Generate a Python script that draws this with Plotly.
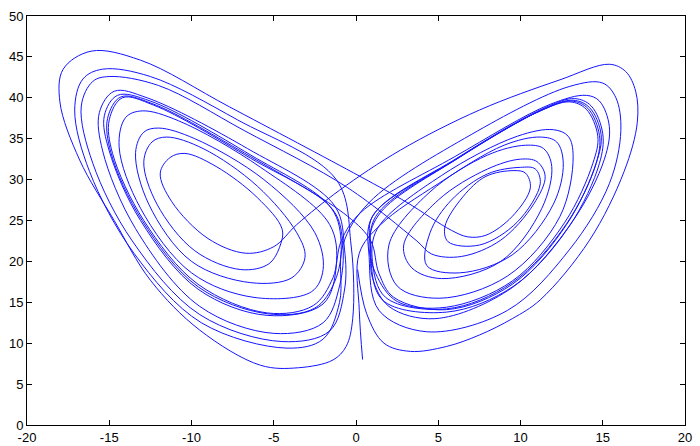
import plotly.graph_objects as go

# Trajectory, loop by loop (x, z) in data units.
R1 = [(0.1, 19.0), (0.65, 13.6), (1.7, 10.0), (3.3, 9.0), (5.5, 9.6), (7.5, 11.0), (9.5, 13.0), (11.2, 15.3),
      (14.2, 22.6), (16.3, 31.0), (17.1, 37.0), (17.0, 40.8), (16.4, 43.2), (15.4, 44.1), (12.4, 42.2),
      (7.5, 38.5), (2.7, 33.6), (-1.0, 28.7), (-3.6, 24.5)]
H = [(-5.0, 21.8), (-6.7, 21.0), (-9.0, 22.8), (-11.2, 27.3), (-11.9, 30.8), (-11.3, 32.7), (-10.4, 33.2),
     (-8.5, 31.6), (-6.0, 27.8), (-4.5, 24.0), (-4.6, 22.0)]
G = [(-5.3, 19.7), (-7.0, 19.0), (-9.8, 21.3), (-12.1, 27.0), (-12.9, 32.2), (-12.4, 34.6), (-11.5, 35.2),
     (-9.3, 33.8), (-6.0, 29.2), (-3.6, 23.5), (-3.1, 20.5)]
F = [(-3.9, 18.0), (-6.4, 17.4), (-10.0, 20.0), (-12.6, 27.0), (-13.4, 33.3), (-12.9, 35.8), (-12.0, 36.3),
     (-9.8, 35.0), (-5.6, 30.0), (-2.5, 23.5), (-2.0, 19.0)]
E = [(-2.7, 16.3), (-6.2, 15.6), (-10.0, 18.6), (-13.1, 26.5), (-14.4, 34.0), (-14.0, 37.6), (-13.0, 38.4),
     (-10.8, 37.2), (-5.8, 31.5), (-1.6, 24.5), (-1.2, 19.5)]
D1 = [(-2.0, 14.8), (-5.4, 13.4), (-9.6, 16.6), (-13.1, 25.0), (-15.0, 33.5), (-15.3, 37.8), (-14.5, 40.3),
      (-12.5, 39.6), (-6.4, 33.0), (-1.5, 26.5), (-0.9, 22.0)]
D2 = [(-1.3, 17.5), (-2.5, 14.3), (-5.4, 13.6), (-9.6, 16.9), (-13.0, 25.0), (-14.9, 33.3), (-15.1, 37.5),
      (-14.3, 40.1), (-12.4, 39.3), (-6.4, 32.8), (-0.5, 25.5), (0.9, 22.5)]
RC1 = [(1.4, 18.5), (2.3, 15.6), (5.5, 14.1), (9.5, 17.2), (12.8, 24.5), (14.6, 32.0), (14.9, 35.5),
       (14.2, 38.8), (13.2, 39.7), (11.4, 38.6), (6.2, 32.6), (1.5, 26.0), (0.8, 22.5)]
RC2 = [(1.2, 18.5), (2.5, 15.1), (5.5, 14.4), (9.5, 17.6), (12.7, 24.8), (14.4, 32.0), (14.7, 35.3),
       (14.0, 38.6), (13.0, 39.5), (11.2, 38.4), (6.0, 32.4), (1.0, 25.5), (0.9, 21.5)]
R3 = [(1.0, 18.0), (2.0, 14.5), (4.8, 13.0), (9.5, 16.8), (13.2, 25.0), (15.1, 32.5), (15.4, 36.5),
      (14.8, 39.6), (14.0, 40.3), (11.8, 39.2), (6.0, 32.8), (0.3, 26.0), (-0.9, 22.5)]
D3 = [(-1.4, 18.0), (-2.6, 14.6), (-5.4, 13.7), (-9.6, 17.2), (-12.9, 25.0), (-14.8, 33.2), (-15.0, 37.3),
      (-14.2, 40.0), (-12.3, 39.1), (-6.4, 32.6), (-1.4, 26.3), (-0.8, 22.0)]
D0 = [(-1.0, 17.0), (-2.0, 12.5), (-5.0, 11.2), (-9.5, 14.5), (-13.4, 24.0), (-15.4, 33.5), (-15.6, 38.2),
      (-14.7, 40.8), (-12.7, 40.0), (-6.6, 33.8), (-1.3, 26.8), (-0.7, 21.5)]
C = [(-0.7, 16.5), (-1.6, 11.5), (-4.5, 10.2), (-9.5, 13.5), (-13.6, 22.5), (-16.0, 32.0), (-16.7, 39.0),
     (-16.0, 42.0), (-15.0, 42.6), (-12.0, 41.5), (-6.8, 36.0), (-0.5, 29.0), (3.7, 22.5)]
R7 = [(4.6, 20.9), (6.4, 20.6), (8.8, 22.6), (10.8, 27.0), (11.5, 30.4), (11.0, 32.2), (10.0, 32.5),
      (8.0, 31.3), (5.0, 27.5), (2.9, 22.0)]
R6 = [(3.4, 19.2), (5.2, 17.9), (8.8, 20.0), (11.3, 26.5), (11.9, 31.6), (11.4, 33.8), (10.3, 34.2),
      (8.0, 33.0), (4.5, 28.5), (2.0, 22.0)]
R5 = [(2.5, 17.0), (5.1, 15.5), (9.2, 18.2), (12.4, 25.5), (13.2, 32.8), (12.9, 35.3), (12.0, 36.1),
      (9.8, 35.3), (5.2, 30.5), (1.3, 24.0), (1.0, 20.0)]
RC3 = [(1.8, 15.6), (5.5, 14.2), (9.5, 17.4), (12.8, 24.6), (14.6, 32.0), (14.8, 35.4), (14.1, 38.7),
       (13.1, 39.6), (11.3, 38.5), (6.1, 32.5), (1.2, 25.5), (0.9, 21.0)]
RC4 = [(1.6, 15.3), (5.5, 13.8), (9.6, 17.0), (13.0, 24.4), (14.8, 32.0), (15.0, 35.6), (14.3, 39.0),
       (13.3, 39.9), (11.5, 38.8), (6.2, 32.7), (1.0, 25.5), (0.8, 20.5)]
R2 = [(1.4, 14.0), (4.3, 11.4), (9.2, 14.0), (13.0, 21.5), (15.4, 29.5), (16.1, 36.0), (15.8, 40.0),
      (15.0, 41.8), (13.0, 41.4), (7.0, 35.5), (0.8, 27.2), (-0.8, 22.0)]
B = [(-1.0, 15.0), (-2.0, 10.5), (-4.2, 9.4), (-9.4, 12.5), (-13.5, 21.0), (-16.2, 31.0), (-17.1, 38.5),
     (-16.6, 42.3), (-15.4, 43.5), (-12.5, 42.6), (-7.2, 37.3), (-1.2, 30.0), (-0.3, 22.0)]
A = [(-0.2, 13.0), (-0.6, 9.6), (-1.4, 7.95), (-3.5, 7.0), (-5.8, 7.3), (-9.5, 11.6), (-12.5, 17.7),
     (-14.7, 25.0), (-16.8, 32.4), (-18.0, 39.5), (-17.8, 43.5), (-16.1, 45.7), (-13.1, 44.6), (-7.7, 38.9),
     (0.24, 30.4), (3.1, 27.2), (5.8, 23.8)]
R9 = [(6.8, 23.0), (7.9, 23.2), (9.5, 25.5), (10.6, 29.0), (10.3, 30.8), (9.6, 31.1), (7.9, 30.4),
      (6.5, 27.9), (5.4, 24.2)]
R8 = [(5.6, 22.4), (7.5, 22.0), (9.8, 24.8), (11.2, 29.5), (10.9, 31.3), (10.0, 31.5), (8.0, 30.7),
      (5.8, 27.5), (4.5, 23.5)]
RF = [(4.3, 19.5), (6.3, 18.6), (9.5, 20.8), (12.0, 27.0), (12.6, 32.0), (12.2, 34.6), (11.2, 35.2),
      (9.0, 34.2), (5.0, 29.5), (1.5, 24.5), (0.2, 21.0), (0.2, 14.0), (0.4, 8.0)]

LOOP_ORDER = [R1, H, G, F, E, D1, D2, RC1, RC2, R3, D3, D0, C, R7, R6, R5, RC3, RC4, R2, B, A, R9, R8, RF]

X_TICKS = [-20, -15, -10, -5, 0, 5, 10, 15, 20]
Y_TICKS = [0, 5, 10, 15, 20, 25, 30, 35, 40, 45, 50]

xs, zs = [], []
for loop in LOOP_ORDER:
    for px, pz in loop:
        xs.append(px)
        zs.append(pz)

fig = go.Figure(go.Scatter(x=xs, y=zs, mode="lines",
                           line=dict(color="rgb(20,20,255)", width=1, shape="spline", smoothing=1.0),
                           hoverinfo="skip"))

axis_common = dict(showgrid=False, zeroline=False, showline=True, linecolor="black", linewidth=1,
                   mirror="ticks", ticks="inside", ticklen=5, tickcolor="black", automargin=False,
                   tickfont=dict(family="Liberation Sans, Arial, sans-serif", size=13, color="black"))

fig.update_layout(
    width=700, height=446,
    margin=dict(l=27, r=15, t=16, b=21),
    paper_bgcolor="white", plot_bgcolor="white",
    showlegend=False,
    xaxis=dict(range=[-20, 20], tickvals=X_TICKS, ticktext=[str(v) for v in X_TICKS], **axis_common),
    yaxis=dict(range=[0, 50], tickvals=Y_TICKS, ticktext=[str(v) for v in Y_TICKS], **axis_common),
)

fig.write_html("out.html", config={"displayModeBar": False})

# remove the browser's default page margin so the figure sits at the window's corner
with open("out.html", "r", encoding="utf-8") as fh:
    page = fh.read()
page = page.replace("<body>", '<body style="margin:0;padding:0;overflow:hidden">', 1)
with open("out.html", "w", encoding="utf-8") as fh:
    fh.write(page)
